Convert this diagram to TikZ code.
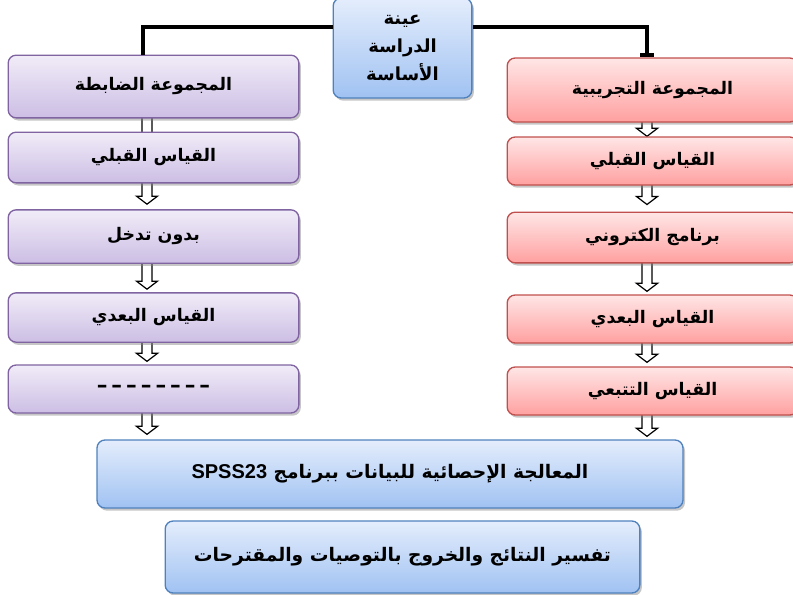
\documentclass[tikz,border=0pt]{standalone}
\usepackage{fontspec}
\usetikzlibrary{calc,shadows,arrows.meta,backgrounds}
\TeXXeTstate=1
\newfontfamily\arabicfont[Script=Arabic]{DejaVu Sans}
\newfontfamily\latinfont{Liberation Sans}
\definecolor{ctlline}{RGB}{128,100,162}
\definecolor{ctltop}{RGB}{241,236,248}
\definecolor{ctlbot}{RGB}{204,190,228}
\definecolor{expline}{RGB}{192,80,77}
\definecolor{exptop}{RGB}{255,230,230}
\definecolor{expbot}{RGB}{255,160,160}
\definecolor{mainline}{RGB}{79,129,189}
\definecolor{maintop}{RGB}{228,237,252}
\definecolor{mainbot}{RGB}{160,194,242}

% hollow block arrow: from node, to node, column, gap above the target
\newcommand{\blockarr}[4]{%
  \coordinate (tip) at ($(#2.north -| #3)+(0,{-(#4)})$);
  \draw[arr_style] ($(#1.south -| #3)+(-5,-3)$) -- ($(tip)+(-5,-8)$) -- ($(tip)+(-10.5,-8)$)
    -- (tip) -- ($(tip)+(10.5,-8)$) -- ($(tip)+(5,-8)$) -- ($(#1.south -| #3)+(5,-3)$);}

\begin{document}
\begin{tikzpicture}[x=0.75pt, y=-0.75pt,
		box_style/.style={draw, line width=1pt, rounded corners=6pt, inner sep=0pt, align=center,
			font=\arabicfont\bfseries\fontsize{13}{21}\selectfont,
			drop shadow={shadow xshift=1.5pt, shadow yshift=-2pt, opacity=0.45}},
		ctl_style/.style={box_style, draw=ctlline, top color=ctltop, bottom color=ctlbot, minimum width=218pt},
		exp_style/.style={box_style, draw=expline, top color=exptop, bottom color=expbot, minimum width=218pt},
		main_style/.style={box_style, draw=mainline, top color=maintop, bottom color=mainbot},
		link_style/.style={draw=black, line width=3pt},
		arr_style/.style={draw=black, fill=white, line width=0.9pt, line join=miter}]
		
		\useasboundingbox (0,0) rectangle (793,594);
		
		\coordinate (lcol) at (147,0);
		\coordinate (rcol) at (647,0);
		
		\node[main_style, minimum width=104pt, minimum height=75pt,
			font=\arabicfont\bfseries\fontsize{13.5}{21}\selectfont] (T) at (402.5,48)
			{\beginR عينة\endR\\\beginR الدراسة\endR\\\beginR الأساسة\endR};
		
		\node[ctl_style, minimum height=47pt] (L1) at (153.5,86.5) {\beginR المجموعة الضابطة\endR};
		\node[ctl_style, minimum height=38pt] (L2) at (153.5,157.5) {\beginR القياس القبلي\endR};
		\node[ctl_style, minimum height=40pt] (L3) at (153.5,236.5) {\beginR بدون تدخل\endR};
		\node[ctl_style, minimum height=37pt] (L4) at (153.5,317.5) {\beginR القياس البعدي\endR};
		\node[ctl_style, minimum height=36pt] (L5) at (153.5,389)
			{\fontsize{16}{16}\selectfont –\hspace{3pt}–\hspace{3pt}–\hspace{3pt}–\hspace{3pt}–\hspace{3pt}–\hspace{3pt}–\hspace{3pt}–};
		
		\node[exp_style, minimum height=48pt] (R1) at (652.5,90) {\beginR المجموعة التجريبية\endR};
		\node[exp_style, minimum height=36pt] (R2) at (652.5,161) {\beginR القياس القبلي\endR};
		\node[exp_style, minimum height=38pt] (R3) at (652.5,237.5) {\beginR برنامج الكتروني\endR};
		\node[exp_style, minimum height=36pt] (R4) at (652.5,319) {\beginR القياس البعدي\endR};
		\node[exp_style, minimum height=36pt] (R5) at (652.5,391) {\beginR القياس التتبعي\endR};
		
		\node[main_style, minimum width=439.5pt, minimum height=51pt,
			font=\arabicfont\bfseries\fontsize{14}{21}\selectfont] (B1) at (390,474)
			{\beginR المعالجة الإحصائية للبيانات ببرنامج \beginL{\latinfont\fontsize{15}{21}\selectfont SPSS23}\endL\endR};
		\node[main_style, minimum width=356pt, minimum height=54pt,
			font=\arabicfont\bfseries\fontsize{14}{21}\selectfont] (B2) at (402.5,557)
			{\beginR تفسير النتائج والخروج بالتوصيات والمقترحات\endR};
		
		\draw[link_style] ([yshift=16pt]T.west) -| ([xshift=-7.9pt]L1.north);
		\draw[link_style, -{Bar[width=10pt]}] ([yshift=16pt]T.east) -| ([xshift=-4.1pt]R1.north);
		
		\begin{scope}[on background layer]
		\blockarr{L1}{L2}{lcol}{-14}
		\blockarr{L2}{L3}{lcol}{5}
		\blockarr{L3}{L4}{lcol}{3}
		\blockarr{L4}{L5}{lcol}{3}
		\blockarr{L5}{B1}{lcol}{5}
		\blockarr{R1}{R2}{rcol}{0}
		\blockarr{R2}{R3}{rcol}{7}
		\blockarr{R3}{R4}{rcol}{3}
		\blockarr{R4}{R5}{rcol}{4}
		\blockarr{R5}{B1}{rcol}{3}
		\end{scope}
		
\end{tikzpicture}
\end{document}
